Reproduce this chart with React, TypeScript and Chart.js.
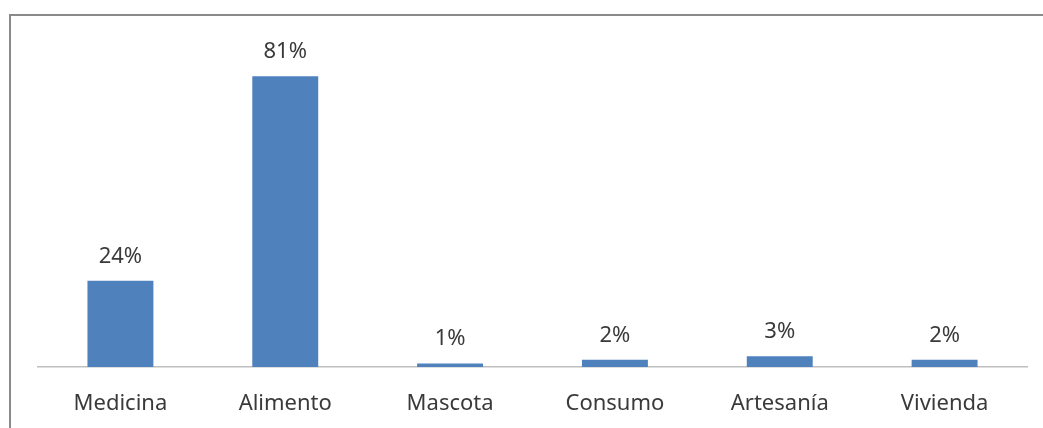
import React, { useEffect, useRef } from "react";
import { Chart, registerables } from "chart.js";

Chart.register(...registerables);

const categories: string[] = ["Medicina", "Alimento", "Mascota", "Consumo", "Artesanía", "Vivienda"];
const percentValues: number[] = [24, 81, 1, 2, 3, 2];
const yAxisMax = 90;
const barColor = "#4F81BD";
const textColor = "#3a3a3a";
const fontFamily = "'Noto Sans', 'Open Sans', sans-serif";

const dataLabelPlugin = {
  id: "dataLabels",
  afterDatasetsDraw(chart: any) {
    const ctx = chart.ctx;
    const meta = chart.getDatasetMeta(0);
    ctx.save();
    ctx.font = `22px ${fontFamily}`;
    ctx.fillStyle = textColor;
    ctx.textAlign = "center";
    ctx.textBaseline = "alphabetic";
    meta.data.forEach((bar: any, i: number) => {
      const v = chart.data.datasets[0].data[i];
      ctx.fillText(`${v}%`, bar.x, bar.y - 18);
    });
    ctx.restore();
  },
};

export default function App() {
  const canvasRef = useRef<HTMLCanvasElement | null>(null);

  useEffect(() => {
    if (!canvasRef.current) return;
    const chart = new Chart(canvasRef.current, {
      type: "bar",
      data: {
        labels: categories,
        datasets: [
          {
            data: percentValues,
            backgroundColor: barColor,
            borderWidth: 0,
            barPercentage: 0.4,
            categoryPercentage: 1,
          },
        ],
      },
      options: {
        animation: false,
        responsive: false,
        maintainAspectRatio: false,
        layout: { padding: { left: 38, right: 16, top: 44, bottom: 0 } },
        plugins: {
          legend: { display: false },
          tooltip: { enabled: false },
        },
        scales: {
          x: {
            grid: { display: false, drawTicks: false },
            border: { display: true, color: "#BFBFBF", width: 1.5 },
            ticks: {
              color: textColor,
              font: { family: fontFamily, size: 22 },
              padding: 24,
              maxRotation: 0,
              autoSkip: false,
            },
            afterFit: (scale: any) => {
              scale.height = 61;
            },
          },
          y: {
            display: false,
            min: 0,
            max: yAxisMax,
          },
        },
      },
      plugins: [dataLabelPlugin],
    });
    return () => chart.destroy();
  }, []);

  return (
    <div style={{ position: "fixed", left: 0, top: 0, width: 1043, height: 428, background: "#fff", overflow: "hidden" }}>
      <div
        style={{
          position: "absolute",
          left: 9,
          top: 14,
          width: 1100,
          height: 500,
          borderTop: "2px solid #8a8a8a",
          borderLeft: "2px solid #8a8a8a",
        }}
      />
      <canvas ref={canvasRef} width={1043} height={428} style={{ position: "absolute", left: 0, top: 0 }} />
    </div>
  );
}
